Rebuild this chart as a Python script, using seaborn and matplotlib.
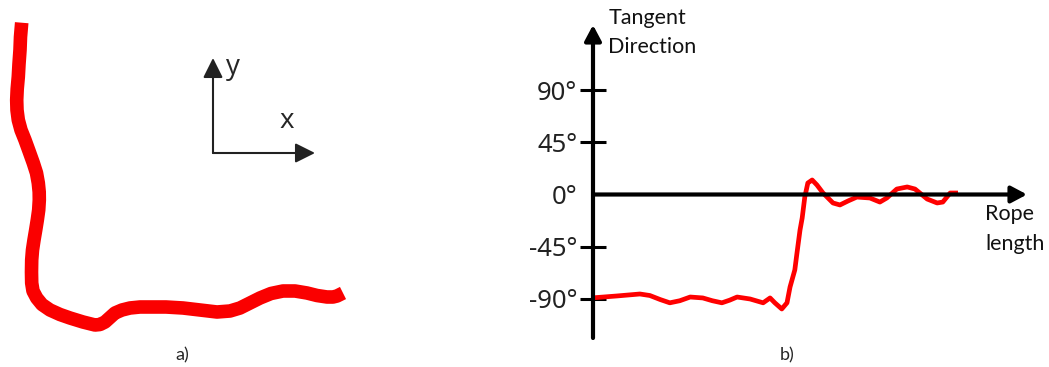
import numpy as np
import pandas as pd
import matplotlib
matplotlib.use("Agg")
import matplotlib.pyplot as plt
import seaborn as sns

# a) rope shape as seen from above (x, y positions, arbitrary units)
rope_x = [2.17, 2.05, 2.00, 1.90, 1.83, 1.72, 1.67, 1.70, 1.83, 2.10, 2.50, 2.90,
          3.33, 3.65, 3.83, 3.92, 3.93, 3.87, 3.73, 3.57, 3.40, 3.25, 3.17, 3.15,
          3.17, 3.30, 3.67, 4.20, 5.00, 6.00, 7.00, 8.30, 9.50, 10.00, 10.50, 11.00,
          11.50, 12.20, 13.00, 14.00, 15.00, 16.60, 18.30, 20.00, 21.70, 23.00, 24.00,
          25.00, 26.00, 27.10, 28.30, 29.50, 30.70, 31.70, 32.70, 33.30, 33.70, 34.00,
          34.30]
rope_y = [34.43, 33.00, 31.70, 30.30, 29.03, 27.80, 26.70, 25.70, 24.70, 23.70,
          22.70, 21.60, 20.40, 19.40, 18.40, 17.50, 16.70, 15.70, 14.70, 13.70,
          12.70, 11.70, 10.70, 9.50, 8.40, 7.60, 6.90, 6.25, 5.70, 5.25, 4.90,
          4.50, 4.20, 4.25, 4.50, 4.95, 5.40, 5.70, 5.90, 6.00, 6.00, 6.00, 5.90,
          5.70, 5.50, 5.60, 5.90, 6.40, 6.90, 7.35, 7.60, 7.60, 7.40, 7.15, 7.00,
          7.00, 7.10, 7.25, 7.40]

# b) tangent direction along the rope
rope_len = [0.0, 5.5, 10.8, 13.1, 15.5, 17.7, 20.0, 22.4, 25.3, 27.5, 29.7, 31.5,
            33.2, 36.2, 39.2, 40.8, 41.9, 43.5, 44.7, 45.4, 46.5, 47.0, 47.7, 48.2,
            48.8, 49.5, 50.5, 51.6, 53.0, 55.3, 56.9, 58.8, 60.8, 63.8, 66.1, 67.7,
            70.0, 72.4, 74.2, 77.0, 79.3, 80.6, 82.3, 84.1]
tangent_deg = [-89.0, -87.4, -85.7, -87.0, -90.5, -93.3, -91.5, -88.3, -89.1, -91.5,
               -93.3, -91.0, -88.3, -90.0, -93.3, -89.1, -93.3, -98.6, -93.3, -79.7,
               -65.0, -50.4, -30.6, -20.2, -2.2, 9.9, 12.5, 8.2, 1.3, -7.3, -9.0,
               -5.5, -2.2, -3.0, -6.5, -3.0, 4.7, 6.5, 4.7, -3.9, -7.3, -6.5, 1.3,
               1.3]
angle_ticks = [-90, -45, 0, 45, 90]
angle_labels = ["-90°", "-45°", "0°", "45°", "90°"]

sns.set_theme(style="white")
plt.rcParams["font.family"] = ["Lato", "DejaVu Sans"]

W, H = 1049, 367
fig = plt.figure(figsize=(W / 100, H / 100), dpi=100)
fig.patch.set_facecolor("white")

# ---- panel a ----
ax_a = fig.add_axes([0, 0, 360 / W, 1])
ax_a.set_xlim(0, 36)
ax_a.set_ylim(0, 36.7)
ax_a.axis("off")
rope_df = pd.DataFrame({"x": rope_x, "y": rope_y})
sns.lineplot(data=rope_df, x="x", y="y", sort=False, estimator=None, ax=ax_a,
             color="#fa0000", linewidth=9.8, solid_capstyle="butt",
             solid_joinstyle="round")

arrow_kw = dict(arrowstyle="-|>,head_length=0.5,head_width=0.25", color="#222222",
                lw=1.5, mutation_scale=24, shrinkA=0, shrinkB=0)
ax_a.annotate("", xy=(21.3, 30.9), xytext=(21.3, 21.4), arrowprops=arrow_kw)
ax_a.annotate("", xy=(31.5, 21.4), xytext=(21.3, 21.4), arrowprops=arrow_kw)
ax_a.text(23.3, 30.0, "y", fontsize=20, ha="center", va="center", family="Open Sans")
ax_a.text(28.7, 24.6, "x", fontsize=20, ha="center", va="center", family="Open Sans")

# ---- panel b ----
ax_b = fig.add_axes([593 / W, (H - 338) / H, (1027 - 593) / W, (338 - 25) / H])
ax_b.set_xlim(0, 100)
ax_b.set_ylim(-123.6, 146)
for sp in ax_b.spines.values():
    sp.set_visible(False)
ax_b.set_facecolor("none")

ax_kw = dict(arrowstyle="-|>,head_length=0.47,head_width=0.25", color="black",
             lw=3, mutation_scale=20, shrinkA=0, shrinkB=0)
ax_b.annotate("", xy=(0, 146), xytext=(0, -123.6), arrowprops=ax_kw, annotation_clip=False)
ax_b.annotate("", xy=(100, 0), xytext=(0, 0), arrowprops=ax_kw, annotation_clip=False)

tan_df = pd.DataFrame({"s": rope_len, "angle": tangent_deg})
sns.lineplot(data=tan_df, x="s", y="angle", ax=ax_b, color="#ff0000", linewidth=3.4,
             estimator=None, clip_on=False, solid_joinstyle="round",
             solid_capstyle="butt")

ax_b.set_xticks([])
ax_b.set_yticks(angle_ticks)
ax_b.set_yticklabels(angle_labels, fontsize=18.5, family="Noto Sans", color="#222222")
ax_b.tick_params(axis="y", direction="inout", length=18.5, width=2.2, color="black",
                 pad=2, left=True)
ax_b.yaxis.get_major_ticks()[2].tick1line.set_visible(False)
ax_b.set_xlabel("")
ax_b.set_ylabel("")

ax_b.text(3.5, 161, "Tangent\nDirection", fontsize=15.5, ha="left", va="top",
          linespacing=1.6, color="#111111")
ax_b.text(90.3, -8.5, "Rope\nlength", fontsize=15.5, ha="left", va="top",
          linespacing=1.6, color="#111111")

fig.text(182 / W, 1 - 355 / H, "a)", fontsize=13, ha="center", va="center")
fig.text(787 / W, 1 - 355 / H, "b)", fontsize=13, ha="center", va="center")

fig.savefig("out.png", dpi=100, facecolor="white")
